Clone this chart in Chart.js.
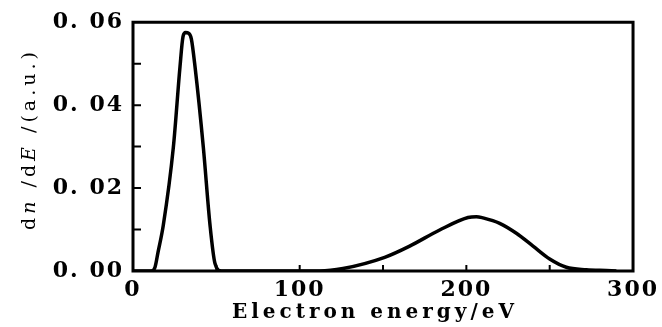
<!DOCTYPE html>
<html>
<head>
<meta charset="utf-8">
<script src="https://cdn.jsdelivr.net/npm/chart.js@4.4.0/dist/chart.umd.min.js"></script>
<style>
  html, body { margin: 0; padding: 0; background: #fff; }
  #wrap { width: 662px; height: 327px; }
</style>
</head>
<body>
<div id="wrap"><canvas id="myChart"></canvas></div>
<script>
// electron energy (eV) and dn/dE (a.u.)
const energy = [0, 11, 13.2, 15, 18.2, 24.2, 28.2, 30, 31.5, 33.5, 35, 37.2, 42.2, 46.2, 49.2, 53,
  100, 112, 126, 151, 166, 184, 201, 206, 210, 220, 230, 240, 250, 260, 272, 284, 290];
const dndE = [0, 0, 0.0009, 0.0045, 0.0111, 0.0298, 0.0493, 0.0565, 0.0575, 0.0573, 0.056, 0.0493, 0.0298, 0.0111, 0.0018, 0,
  0, 0, 0.0006, 0.0033, 0.006, 0.0099, 0.0129, 0.0131, 0.0128, 0.0115, 0.0091, 0.006, 0.0029, 0.0009, 0.0003, 0.0001, 0];

const xTickStep = 100;
const yTickStep = 0.02;
const xMinor = [50, 100, 150, 200, 250];
const yMinor = [0.01, 0.02, 0.03, 0.04, 0.05];
const xTitle = 'Electron energy/eV';

const serif = 'DejaVu Serif';

// letter spacing for tick text (the figure uses wide type)
const spacing = {
  id: 'spacing',
  beforeDraw(chart) {
    chart.ctx.letterSpacing = '2px';
  }
};

// box frame + inward ticks + axis titles
const frame = {
  id: 'frame',
  afterDraw(chart) {
    const ctx = chart.ctx;
    const a = chart.chartArea;
    const xs = chart.scales.x, ys = chart.scales.y;
    ctx.save();
    ctx.strokeStyle = '#000';
    ctx.lineWidth = 3;
    ctx.lineCap = 'square';
    ctx.beginPath();
    ctx.moveTo(a.left, a.top);
    ctx.lineTo(a.right, a.top);
    ctx.lineTo(a.right, a.bottom);
    ctx.lineTo(a.left, a.bottom);
    ctx.closePath();
    ctx.stroke();

    ctx.lineWidth = 2;
    ctx.lineCap = 'butt';
    ctx.beginPath();
    xMinor.forEach(v => {
      const px = xs.getPixelForValue(v);
      ctx.moveTo(px, a.bottom);
      ctx.lineTo(px, a.bottom - 6);
    });
    yMinor.forEach(v => {
      const py = ys.getPixelForValue(v);
      ctx.moveTo(a.left, py);
      ctx.lineTo(a.left + 8, py);
    });
    ctx.stroke();

    ctx.fillStyle = '#000';

    // x title
    ctx.font = 'bold 20px ' + serif;
    ctx.letterSpacing = '4px';
    ctx.textAlign = 'center';
    ctx.textBaseline = 'middle';
    ctx.fillText(xTitle, 375, 313);

    // y title: dn /dE /(a.u.)
    const parts = [
      ['d', '19px ' + serif],
      ['n', 'italic 19px ' + serif],
      [' /d', '19px ' + serif],
      ['E', 'italic 19px ' + serif],
      [' /(a.u.)', '19px ' + serif]
    ];
    ctx.letterSpacing = '4px';
    let total = 0;
    parts.forEach(p => { ctx.font = p[1]; total += ctx.measureText(p[0]).width; });
    ctx.translate(30, 139);
    ctx.rotate(-Math.PI / 2);
    ctx.textAlign = 'left';
    let x = -total / 2;
    parts.forEach(p => {
      ctx.font = p[1];
      ctx.fillText(p[0], x, 0);
      x += ctx.measureText(p[0]).width;
    });
    ctx.restore();
  }
};

const data = {
  datasets: [{
    data: energy.map((e, i) => ({ x: e, y: dndE[i] })),
    borderColor: '#000',
    borderWidth: 3.5,
    pointRadius: 0,
    fill: false,
    cubicInterpolationMode: 'monotone'
  }]
};

const config = {
  type: 'line',
  data: data,
  plugins: [spacing, frame],
  options: {
    responsive: true,
    maintainAspectRatio: false,
    animation: false,
    devicePixelRatio: 1,
    layout: { padding: { top: 15, right: 28, left: 0, bottom: 0 } },
    plugins: { legend: { display: false }, tooltip: { enabled: false } },
    scales: {
      x: {
        type: 'linear',
        min: 0,
        max: 300,
        afterFit: s => { s.height = 56; },
        grid: { display: false, drawTicks: false },
        border: { display: false },
        ticks: {
          stepSize: xTickStep,
          padding: 6,
          maxRotation: 0,
          color: '#000',
          font: { family: serif, size: 22, weight: 'bold' }
        }
      },
      y: {
        min: 0,
        max: 0.06,
        afterFit: s => { s.width = 133; },
        grid: { display: false, drawTicks: false },
        border: { display: false },
        ticks: {
          stepSize: yTickStep,
          padding: 9,
          color: '#000',
          font: { family: serif, size: 22, weight: 'bold' },
          callback: v => v.toFixed(2).replace('.', '. ')
        }
      }
    }
  }
};

const myChart = new Chart(document.getElementById('myChart'), config);
</script>
</body>
</html>
